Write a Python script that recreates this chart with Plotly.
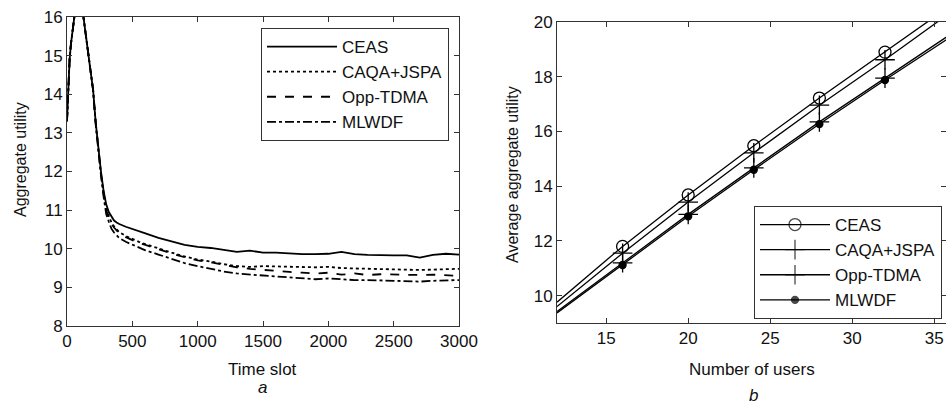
import plotly.graph_objects as go

# ---------------- data: panel a ----------------
time_slot = [0, 10, 20, 30, 40, 50, 60, 80, 100, 120, 140, 160, 180, 200, 220, 240, 260, 280,
             300, 320, 340, 360, 380, 400, 450, 500, 550, 600, 700, 800, 900, 1000, 1100, 1200,
             1300, 1400, 1500, 1600, 1700, 1800, 1900, 2000, 2100, 2200, 2300, 2400, 2500, 2600,
             2700, 2800, 2900, 3000]
ceas_a = [13.3, 14.2, 14.9, 15.3, 15.6, 15.9, 16.1, 16.3, 16.3, 16.15, 15.6, 15.15, 14.6, 14.1,
          13.25, 12.55, 12.0, 11.5, 11.15, 10.95, 10.82, 10.73, 10.68, 10.64, 10.57, 10.52,
          10.46, 10.4, 10.28, 10.18, 10.1, 10.05, 10.02, 9.97, 9.92, 9.95, 9.9, 9.9, 9.88, 9.86,
          9.86, 9.87, 9.92, 9.86, 9.84, 9.83, 9.83, 9.83, 9.77, 9.84, 9.87, 9.85]
caqa_a = [13.3, 14.2, 14.9, 15.3, 15.6, 15.9, 16.1, 16.3, 16.3, 16.15, 15.6, 15.15, 14.6, 14.1,
          13.25, 12.5, 11.95, 11.45, 11.05, 10.85, 10.68, 10.58, 10.5, 10.43, 10.33, 10.25,
          10.18, 10.12, 10.0, 9.9, 9.8, 9.72, 9.67, 9.6, 9.55, 9.53, 9.55, 9.54, 9.53, 9.53,
          9.52, 9.53, 9.5, 9.49, 9.48, 9.47, 9.47, 9.46, 9.45, 9.46, 9.47, 9.48]
opp_a = [13.3, 14.2, 14.9, 15.3, 15.6, 15.9, 16.1, 16.3, 16.3, 16.15, 15.6, 15.15, 14.6, 14.1,
         13.25, 12.5, 11.95, 11.42, 11.0, 10.8, 10.65, 10.55, 10.47, 10.4, 10.3, 10.22, 10.15,
         10.1, 9.98, 9.88, 9.78, 9.7, 9.65, 9.58, 9.52, 9.48, 9.45, 9.42, 9.4, 9.38, 9.36, 9.38,
         9.33, 9.36, 9.32, 9.34, 9.33, 9.33, 9.32, 9.33, 9.32, 9.3]
mlwdf_a = [13.3, 14.2, 14.9, 15.3, 15.6, 15.9, 16.1, 16.3, 16.3, 16.15, 15.6, 15.15, 14.6, 14.1,
           13.2, 12.45, 11.9, 11.35, 10.9, 10.7, 10.52, 10.42, 10.35, 10.28, 10.18, 10.1, 10.02,
           9.96, 9.85, 9.75, 9.63, 9.55, 9.48, 9.41, 9.36, 9.33, 9.3, 9.28, 9.26, 9.23, 9.21,
           9.23, 9.21, 9.19, 9.19, 9.18, 9.18, 9.16, 9.15, 9.17, 9.18, 9.19]

# ---------------- data: panel b ----------------
num_users = [12, 16, 20, 24, 28, 32, 36]
ceas_b = [9.76, 11.8, 13.68, 15.48, 17.22, 18.9, 20.6]
caqa_b = [9.6, 11.55, 13.42, 15.22, 16.96, 18.62, 20.35]
opp_b = [9.42, 11.2, 12.97, 14.67, 16.35, 17.95, 19.55]
mlwdf_b = [9.37, 11.12, 12.9, 14.6, 16.27, 17.88, 19.45]
marker_shown = [0, 1, 1, 1, 1, 1, 0]

series_names = ["CEAS", "CAQA+JSPA", "Opp-TDMA", "MLWDF"]
x_ticks_a = [0, 500, 1000, 1500, 2000, 2500, 3000]
y_ticks_a = [8, 9, 10, 11, 12, 13, 14, 15, 16]
x_ticks_b = [15, 20, 25, 30, 35]
y_ticks_b = [10, 12, 14, 16, 18, 20]

FONT = "Liberation Sans, Arial, Helvetica, sans-serif"
W, H = 946, 405
AX = "#333333"
TXT = "#111111"

fig = go.Figure()

dashes = ["solid", "dot", "dash", "dashdot"]
for name, ys, d in zip(series_names, [ceas_a, caqa_a, opp_a, mlwdf_a], dashes):
    fig.add_trace(go.Scatter(x=time_slot, y=ys, mode="lines", name=name,
                             line=dict(color="black", width=1.8, dash=d),
                             xaxis="x", yaxis="y", legend="legend"))

symbols = ["circle-open", "cross-thin-open", "cross-thin-open", "circle"]
msizes = [12, 14, 14, 7]
for name, ys, sym, ms in zip(series_names, [ceas_b, caqa_b, opp_b, mlwdf_b], symbols, msizes):
    fig.add_trace(go.Scatter(x=num_users, y=ys, mode="lines+markers", name=name,
                             line=dict(color="black", width=1.3),
                             marker=dict(symbol=sym, size=ms, color="black",
                                         opacity=marker_shown,
                                         line=dict(color="black", width=1.3)),
                             xaxis="x2", yaxis="y2", legend="legend2"))

axis_common = dict(showline=True, linecolor=AX, linewidth=1, mirror="ticks",
                   ticks="inside", ticklen=5, tickcolor=AX, showgrid=False, zeroline=False,
                   automargin=False, tickfont=dict(family=FONT, size=17, color=TXT))


def txt(text, x, y, size=17, angle=0):
    return dict(text=text, x=x / W, y=1 - y / H, xref="paper", yref="paper",
                xanchor="center", yanchor="middle", textangle=angle, showarrow=False,
                font=dict(family=FONT, size=size, color=TXT))


legend_common = dict(bgcolor="white", bordercolor=AX, borderwidth=1, itemwidth=70,
                     font=dict(family=FONT, size=17, color=TXT), tracegroupgap=0)

fig.update_layout(
    width=W, height=H, margin=dict(l=0, r=0, t=0, b=0, autoexpand=False),
    paper_bgcolor="white", plot_bgcolor="white",
    font=dict(family=FONT, size=17, color=TXT),
    xaxis=dict(domain=[67 / W, 459 / W], range=[0, 3000], tickvals=x_ticks_a,
               anchor="y", **axis_common),
    yaxis=dict(domain=[(H - 326) / H, (H - 17) / H], range=[8, 16], tickvals=y_ticks_a,
               anchor="x", **axis_common),
    xaxis2=dict(domain=[557 / W, 1.0], range=[12, 35.72], tickvals=x_ticks_b,
                anchor="y2", **axis_common),
    yaxis2=dict(domain=[(H - 323) / H, (H - 22) / H], range=[9, 20], tickvals=y_ticks_b,
                anchor="x2", **axis_common),
    legend=dict(x=449 / W, xanchor="right", y=1 - 28 / H, yanchor="top", **legend_common),
    legend2=dict(x=942 / W, xanchor="right", y=1 - 206 / H, yanchor="top", **legend_common),
    annotations=[
        txt("Time slot", 262, 369),
        txt("Number of users", 752, 369),
        txt("Aggregate utility", 20, 160, size=16, angle=-90),
        txt("Average aggregate utility", 513, 175, size=16, angle=-90),
        txt("<i>a</i>", 262, 387),
        txt("<i>b</i>", 753, 395),
    ],
)

fig.write_html("out.html",
               config={"displayModeBar": False},
               post_script="document.body.style.margin='0px';document.body.style.overflow='hidden';")
